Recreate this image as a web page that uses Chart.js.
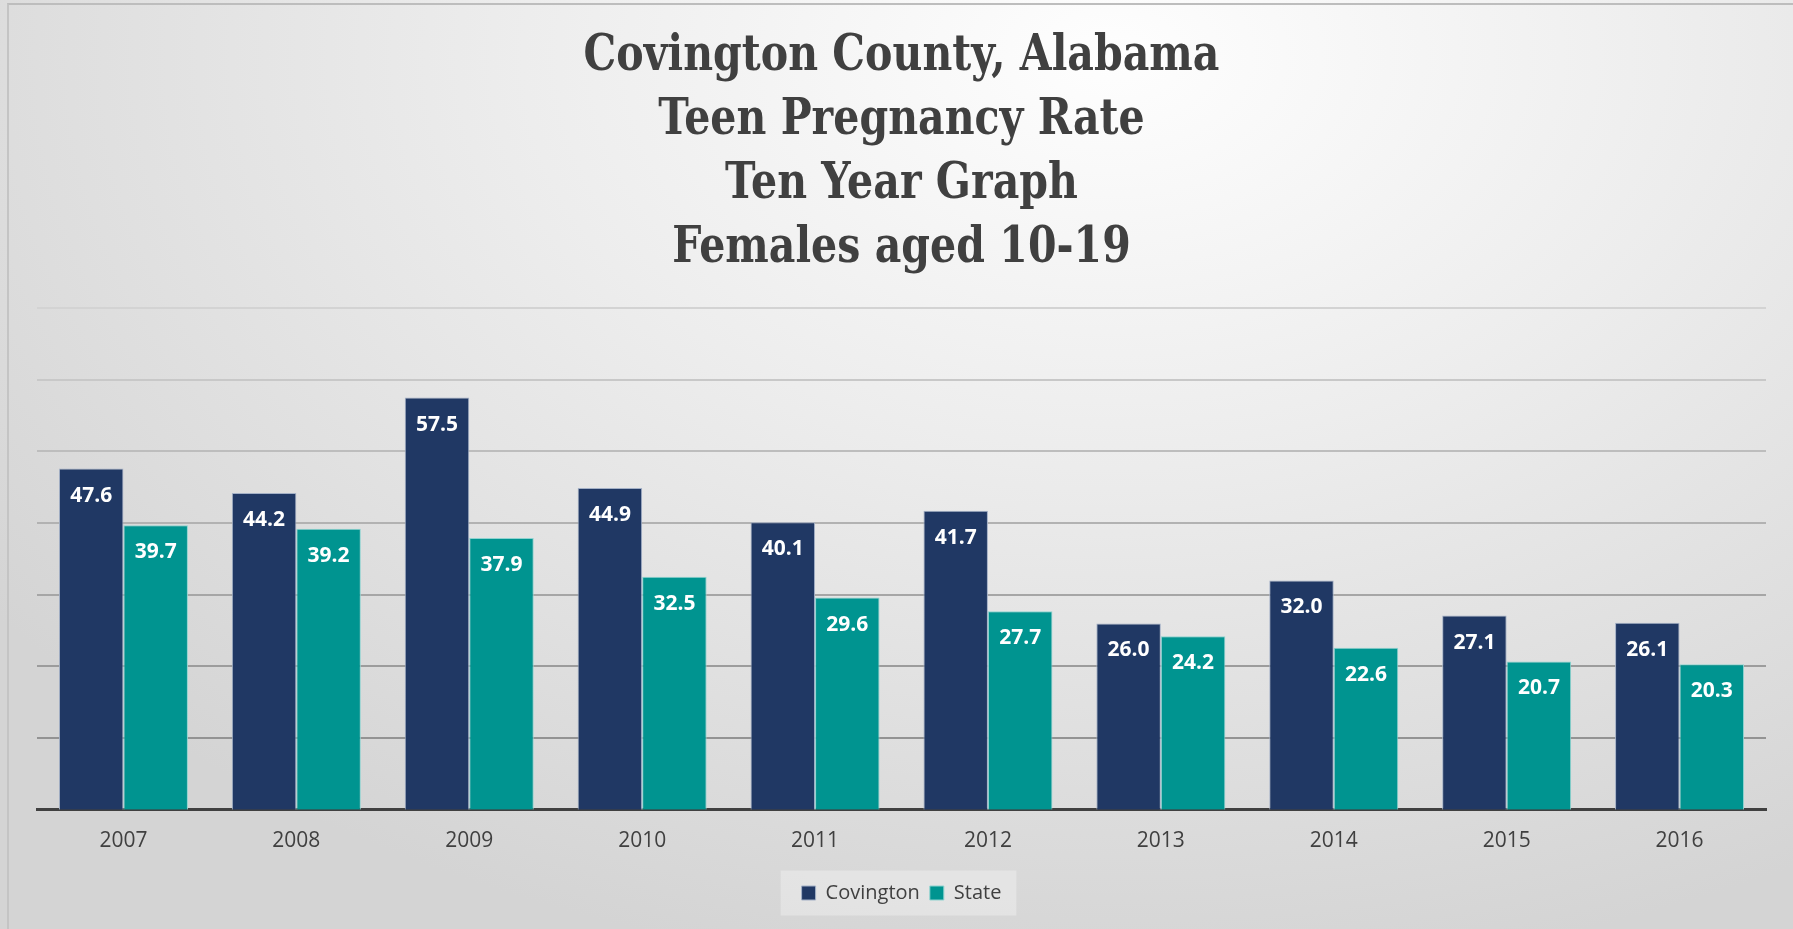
<!DOCTYPE html>
<html>
<head>
<meta charset="utf-8">
<script src="https://cdn.jsdelivr.net/npm/chart.js@4.4.1/dist/chart.umd.min.js"></script>
<style>
  html, body { margin: 0; padding: 0; }
  body {
    width: 1793px; height: 929px; overflow: hidden; position: relative;
    background: radial-gradient(ellipse 78% 100% at 62% 6%, #fefefe 0%, #ededed 42%, #d4d4d4 100%);
  }
  #frame {
    position: absolute; left: 7px; top: 3px; right: -5px; bottom: -5px;
    border-top: 2px solid #bdbdbd; border-left: 2px solid #c4c4c4;
  }
  #wrap { position: absolute; left: 0; top: 0; width: 1793px; height: 929px; }
</style>
</head>
<body>
<div id="frame"></div>
<div id="wrap"><canvas id="grafica"></canvas></div>
<script>
// datos
const anios = ['2007', '2008', '2009', '2010', '2011', '2012', '2013', '2014', '2015', '2016'];
const covington = [47.6, 44.2, 57.5, 44.9, 40.1, 41.7, 26.0, 32.0, 27.1, 26.1];
const estado = [39.7, 39.2, 37.9, 32.5, 29.6, 27.7, 24.2, 22.6, 20.7, 20.3];
const titulo = ['Covington County, Alabama', 'Teen Pregnancy Rate', 'Ten Year Graph', 'Females aged 10-19'];

// colores de las lineas de fondo, mas oscuras abajo
const colorLinea = {10: '#939393', 20: '#9c9c9c', 30: '#a6a6a6', 40: '#b2b2b2', 50: '#bdbdbd', 60: '#c8c8c8', 70: '#d3d3d3'};

// titulo en cuatro lineas; la primera linea mide unos 636px en el original
const tituloAngosto = {
    id: 'tituloAngosto',
    afterDraw(chart) {
        const ctx = chart.ctx;
        const cx = (chart.chartArea.left + chart.chartArea.right) / 2;
        ctx.save();
        ctx.fillStyle = '#404040';
        ctx.font = 'bold 51px "DejaVu Serif"';
        ctx.textAlign = 'center';
        ctx.textBaseline = 'middle';
        const factor = Math.min(1, 636 / ctx.measureText(titulo[0]).width);
        titulo.forEach((linea, i) => {
            ctx.save();
            ctx.translate(cx, 57 + i * 64);
            ctx.scale(factor, 1);
            ctx.fillText(linea, 0, 0);
            ctx.restore();
        });
        ctx.restore();
    }
};

// etiquetas blancas dentro de cada barra
const etiquetasBarras = {
    id: 'etiquetasBarras',
    afterDatasetsDraw(chart) {
        const ctx = chart.ctx;
        ctx.save();
        ctx.fillStyle = '#ffffff';
        ctx.font = 'bold 21px "Open Sans"';
        ctx.textAlign = 'center';
        ctx.textBaseline = 'middle';
        chart.data.datasets.forEach((ds, i) => {
            chart.getDatasetMeta(i).data.forEach((bar, j) => {
                ctx.fillText(ds.data[j].toFixed(1), bar.x, bar.y + 27);
            });
        });
        ctx.restore();
    }
};

// fondo claro detras de la leyenda
const fondoLeyenda = {
    id: 'fondoLeyenda',
    beforeDraw(chart) {
        const leg = chart.legend;
        if (!leg || !leg.legendHitBoxes.length) return;
        const cajas = leg.legendHitBoxes;
        const izq = cajas[0].left - 21;
        const der = cajas[cajas.length - 1].left + cajas[cajas.length - 1].width + 15;
        const centro = cajas[0].top + cajas[0].height / 2;
        const ctx = chart.ctx;
        ctx.save();
        ctx.fillStyle = 'rgba(255,255,255,0.3)';
        ctx.fillRect(izq, centro - 22.5, der - izq, 45);
        ctx.restore();
    }
};

const ctx = document.getElementById('grafica').getContext('2d');
new Chart(ctx, {
    type: 'bar',
    data: {
        labels: anios,
        datasets: [{
            label: 'Covington',
            data: covington,
            backgroundColor: '#203864',
            borderColor: '#a3b0c6',
            borderWidth: 1
        }, {
            label: 'State',
            data: estado,
            backgroundColor: '#009490',
            borderColor: '#8fd3d0',
            borderWidth: 1
        }]
    },
    options: {
        responsive: true,
        maintainAspectRatio: false,
        animation: false,
        datasets: {
            bar: { barPercentage: 1, categoryPercentage: 0.746 }
        },
        layout: { padding: { left: 37, right: 27, top: 308, bottom: 16 } },
        scales: {
            x: {
                grid: { display: false, drawTicks: false },
                border: { display: true, color: '#404040', width: 3 },
                ticks: { color: '#404040', font: { family: '"Open Sans"', size: 21 }, padding: 19 }
            },
            y: {
                min: 0,
                max: 70,
                ticks: { display: false, stepSize: 10 },
                border: { display: false },
                grid: {
                    drawTicks: false,
                    tickLength: 0,
                    lineWidth: c => c.tick.value === 0 ? 0 : 2,
                    color: c => colorLinea[c.tick.value] || '#a6a6a6'
                },
                afterFit(scale) { scale.width = 0; }
            }
        },
        plugins: {
            title: { display: false },
            legend: {
                position: 'bottom',
                labels: {
                    color: '#404040',
                    font: { family: '"Open Sans"', size: 20 },
                    boxWidth: 14,
                    boxHeight: 14,
                    padding: 10
                }
            },
            tooltip: { enabled: false }
        }
    },
    plugins: [fondoLeyenda, etiquetasBarras, tituloAngosto]
});
</script>
</body>
</html>
